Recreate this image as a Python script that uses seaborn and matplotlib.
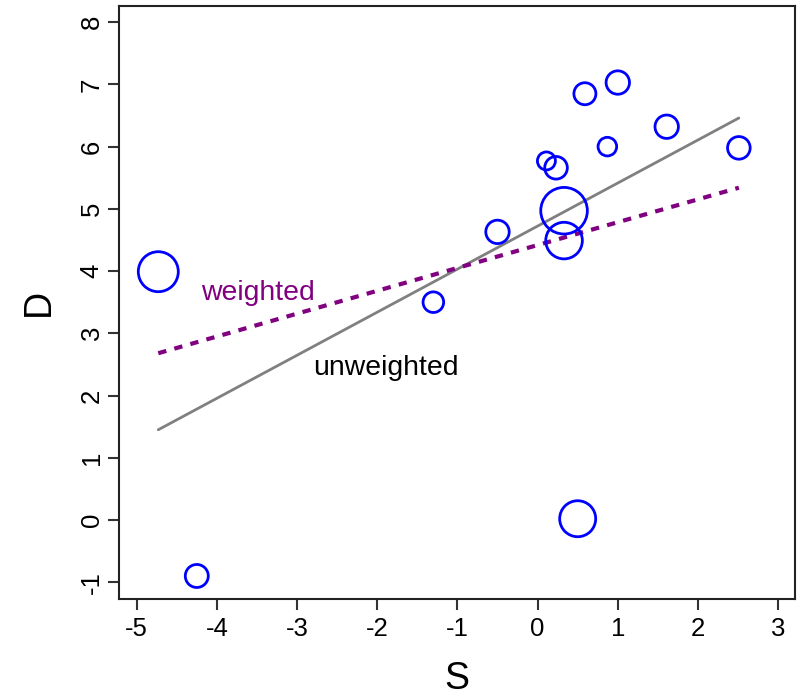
import matplotlib
matplotlib.use("Agg")
import matplotlib.pyplot as plt
import seaborn as sns
import pandas as pd
import numpy as np

# Data
S = [-4.73, -4.25, -1.30, -0.50, 0.11, 0.23, 0.33, 0.33, 0.59, 1.00, 0.87, 1.61, 2.51, 0.50]
D = [3.99, -0.90, 3.50, 4.63, 5.77, 5.66, 4.97, 4.49, 6.85, 7.03, 6.00, 6.32, 5.98, 0.02]
radius_px = [20, 11.5, 10.3, 11.7, 9, 11.3, 23.3, 18.3, 11, 11.7, 9.3, 11.7, 11.3, 18]

line_x = [-4.73, 2.51]
unweighted_y = [1.45, 6.46]
weighted_y = [2.68, 5.34]

x_ticks = [-5, -4, -3, -2, -1, 0, 1, 2, 3]
y_ticks = [-1, 0, 1, 2, 3, 4, 5, 6, 7, 8]

df = pd.DataFrame({"S": S, "D": D, "size": [(1.44 * r) ** 2 for r in radius_px]})
lines = pd.DataFrame({"S": line_x, "unw": unweighted_y, "w": weighted_y})

sns.set_style("ticks")
plt.rcParams["font.family"] = ["Liberation Sans", "DejaVu Sans"]

fig = plt.figure(figsize=(8, 6.96), dpi=100)
ax = fig.add_axes([119 / 800, 1 - 599 / 696, (795 - 119) / 800, (599 - 6) / 696])

sns.lineplot(data=lines, x="S", y="unw", ax=ax, color="#808080", lw=2, sort=False)
sns.lineplot(data=lines, x="S", y="w", ax=ax, color="#800080", lw=3,
             linestyle=(0, (2, 2)), sort=False)
ax.scatter(df["S"], df["D"], s=df["size"], facecolors="none", edgecolors="#0000FF",
           linewidths=2, zorder=3)

ax.text(-4.2, 3.65, "weighted", color="#800080", fontsize=20.4, ha="left", va="center")
ax.text(-2.8, 2.45, "unweighted", color="black", fontsize=20.4, ha="left", va="center")

ax.set_xlim(-5.22, 3.21)
ax.set_ylim(-1.27, 8.26)
ax.set_xticks(x_ticks)
ax.set_yticks(y_ticks)
ax.set_xticklabels([str(v) for v in x_ticks])
ax.set_yticklabels([str(v) for v in y_ticks], rotation=90, va="center")
ax.tick_params(direction="out", length=8, width=1.5, color="#333333",
               labelsize=18.5, labelcolor="black")
ax.tick_params(axis="x", pad=5)
ax.tick_params(axis="y", pad=3)
for sp in ax.spines.values():
    sp.set_linewidth(1.5)
    sp.set_color("#222222")
    sp.set_visible(True)

ax.set_xlabel("S", fontsize=27, color="black")
ax.set_ylabel("D", fontsize=27, color="black")
ax.xaxis.set_label_coords(0.5, -0.105)
ax.yaxis.set_label_coords(-0.092, 0.5)

fig.savefig("out.png", dpi=100, facecolor="white")
